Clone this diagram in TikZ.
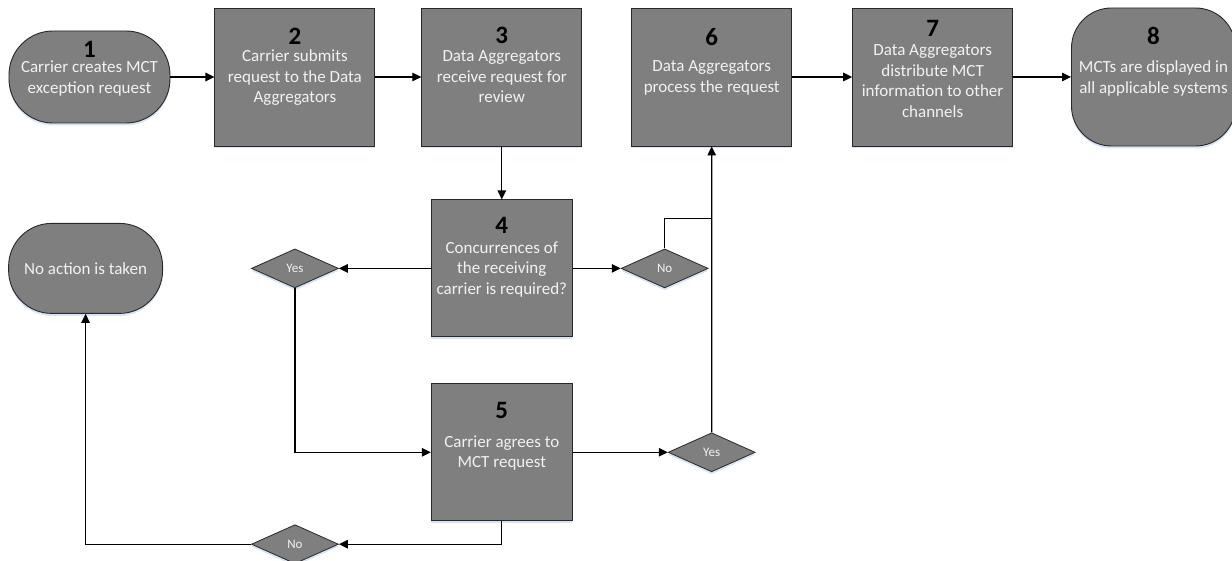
\documentclass[tikz,border=0pt]{standalone}
\usepackage{fontspec}
\setmainfont{Carlito}
\usetikzlibrary{positioning,arrows.meta,shapes.geometric,shadows}

\definecolor{boxgray}{RGB}{127,127,127}
\definecolor{boxline}{RGB}{40,40,40}
\definecolor{boxtext}{RGB}{242,242,242}
\definecolor{glow}{RGB}{214,228,246}

\tikzset{
    glowshadow/.style={drop shadow={shadow xshift=0pt, shadow yshift=-2.5pt, fill=glow, opacity=1}},
    procbox/.style={
        draw=boxline, fill=boxgray, line width=0.9pt, glowshadow,
        minimum width=160pt, minimum height=138pt, inner sep=0pt
    },
    askbox/.style={procbox, minimum width=141pt, minimum height=137pt},
    terminal/.style={
        draw=boxline, fill=boxgray, line width=0.9pt, glowshadow,
        rounded corners=44pt, inner sep=0pt, text=boxtext
    },
    choice/.style={
        diamond, aspect=2.2, draw=boxline, fill=boxgray, line width=0.8pt, glowshadow,
        minimum width=87pt, minimum height=39pt, inner sep=0pt,
        text=boxtext, font=\fontsize{13}{15}\selectfont
    },
    stepnum/.style={anchor=base, inner sep=0pt, font=\fontsize{25}{30}\selectfont\bfseries},
    % base of a multi-line text is its last line
    steptext/.style={anchor=base, inner sep=0pt, align=center, text=boxtext}
}

\begin{document}
\begin{tikzpicture}[
    font=\fontsize{17}{20.5}\selectfont,
    arrow/.style={-{Triangle[length=9pt,width=8.5pt]}, line width=1.2pt},
    link/.style={line width=1.2pt},
]
\useasboundingbox (-89.5pt,77pt) rectangle (1142.5pt,-484pt);

% ===============================
%          main row (top)
% ===============================

\node[terminal, minimum width=161pt, minimum height=92pt] (t1) at (0,0) {};
\node[procbox, right=44pt of t1] (b2) {};
\node[procbox, right=46pt of b2] (b3) {};
\node[procbox, right=49pt of b3] (b6) {};
\node[procbox, right=60pt of b6] (b7) {};
\node[terminal, rounded corners=40pt, minimum width=164pt, minimum height=138pt,
    right=58pt of b7] (t8) {};

% ===============================
%        review column
% ===============================

\node[askbox, below=53pt of b3] (b4) {};
\node[askbox, below=46pt of b4] (b5) {};

\node[choice, left=92pt of b4] (dy1) {Yes};
\node[choice, right=48pt of b4] (dn1) {No};
\node[choice, right=95pt of b5] (dy2) {Yes};
\node[choice, below=236pt of dy1] (dn2) {No};

\node[terminal, rounded corners=43pt, minimum width=154pt, minimum height=90pt,
    left=88pt of dy1] (tno) {No action is taken};

% ===============================
%        numbers and texts
% ===============================

\node[stepnum] (n1) at ([yshift=-26.5pt]t1.north) {1};
\node[steptext] (d1) at ([yshift=-62.5pt]t1.north) {Carrier creates MCT\\exception request};

\node[stepnum] (n2) at ([yshift=-37pt]b2.north) {2};
\node[steptext] (d2) at ([yshift=-95pt]b2.north) {Carrier submits\\request to the Data\\Aggregators};

\node[stepnum] (n3) at ([yshift=-36pt]b3.north) {3};
\node[steptext] (d3) at ([yshift=-95pt]b3.north) {Data Aggregators\\receive request for\\review};

\node[stepnum] (n6) at ([yshift=-38pt]b6.north) {6};
\node[steptext] (d6) at ([yshift=-84.5pt]b6.north) {Data Aggregators\\process the request};

\node[stepnum] (n7) at ([yshift=-29pt]b7.north) {7};
\node[steptext] (d7) at ([yshift=-109.5pt]b7.north) {Data Aggregators\\distribute MCT\\information to other\\channels};

\node[stepnum] (n8) at ([yshift=-37pt]t8.north) {8};
\node[steptext] (d8) at ([yshift=-85.5pt]t8.north) {MCTs are displayed in\\all applicable systems};

\node[stepnum] (n4) at ([yshift=-34pt]b4.north) {4};
\node[steptext] (d4) at ([yshift=-95pt]b4.north) {Concurrences of\\the receiving\\carrier is required?};

\node[stepnum] (n5) at ([yshift=-35pt]b5.north) {5};
\node[steptext] (d5) at ([yshift=-84.5pt]b5.north) {Carrier agrees to\\MCT request};

% ===============================
%              arrows
% ===============================

\draw[arrow] (t1) -- (b2);
\draw[arrow] (b2) -- (b3);
\draw[arrow] (b3) -- (b4);
\draw[arrow] (b6) -- (b7);
\draw[arrow] (b7) -- (t8);

\draw[arrow] (b4) -- (dy1);
\draw[arrow] (b4) -- (dn1);
\coordinate (merge) at ([yshift=30pt]dn1.north -| b6.south);
\draw[link] (dn1.north) |- (merge);
\draw[arrow] (dy2.north) -- (b6.south);

\draw[arrow] (dy1.south) |- (b5.west);
\draw[arrow] (b5) -- (dy2);
\draw[arrow] (b5.south) |- (dn2.east);
\draw[arrow] (dn2.west) -| (tno.south);

\end{tikzpicture}
\end{document}
